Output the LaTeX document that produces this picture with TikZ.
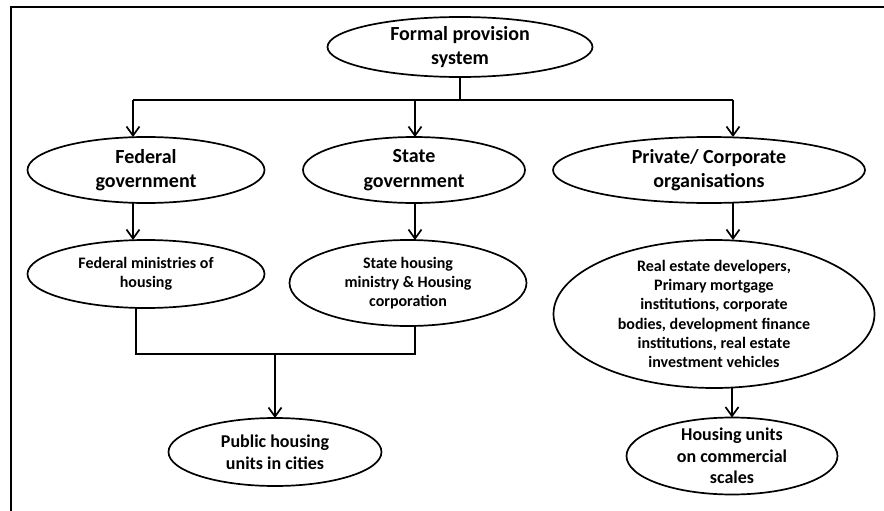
\documentclass[tikz,border=0pt]{standalone}
\usepackage{fontspec}
\setmainfont{Carlito}
\usetikzlibrary{shapes.geometric,arrows.meta}
\begin{document}
\begin{tikzpicture}[x=1pt,y=-1pt,
  ell/.style={draw, ellipse, line width=1.7pt, inner sep=0pt, outer sep=0pt},
  big/.style={align=center, font=\bfseries\fontsize{20}{24.5}\selectfont},
  mid/.style={align=center, font=\bfseries\fontsize{18}{21.7}\selectfont},
  small/.style={align=center, font=\bfseries\fontsize{16}{19.3}\selectfont},
  conn/.style={line width=1.7pt},
  arr/.style={conn, -{Straight Barb[length=9pt,width=13pt]}}]
\useasboundingbox (0,0) rectangle (884,511);
\draw[line width=2pt] (884,7) -- (11,7) -- (11,511);

% ellipses
\node[ell, minimum width=265, minimum height=60] (fps) at (460,47) {};
\node[big] (fpst) at (fps) {Formal provision\\system};
\node[ell, minimum width=237, minimum height=66] (fed) at (146,170) {};
\node[big] (fedt) at (fed) {Federal\\government};
\node[ell, minimum width=222, minimum height=66] (st) at (414,170) {};
\node[big] (stt) at (st) {State\\government};
\node[ell, minimum width=312, minimum height=66] (pc) at (709,170) {};
\node[big] (pct) at (pc) {Private/ Corporate\\organisations};
\node[ell, minimum width=237, minimum height=68] (fm) at (146,274) {};
\node[small] (fmt) at (fm) {Federal ministries of\\housing};
\node[ell, minimum width=237, minimum height=86] (sh) at (408,283) {};
\node[small] (sht) at (sh) {State housing\\ministry \& Housing\\corporation};
\node[ell, minimum width=321, minimum height=148] (rs) at (714,314) {};
\node[small] (rst) at (rs) {Real estate developers,\\Primary mortgage\\institutions, corporate\\bodies, development finance\\institutions, real estate\\investment vehicles};
\node[ell, minimum width=213, minimum height=68] (ph) at (275,452) {};
\node[mid] (pht) at (ph) {Public housing\\units in cities};
\node[ell, minimum width=211, minimum height=77] (hu) at (732,456) {};
\node[mid] (hut) at (hu) {Housing units\\on commercial\\scales};

% connectors
\coordinate (bL) at (133,100);
\coordinate (bM) at (415,100);
\coordinate (bR) at (733,100);
\draw[conn] (fps.south) -- (fps.south |- bL);
\draw[conn] (bL) -- (bR);
\draw[arr] (bL) -- (bL |- fed.north);
\draw[arr] (bM) -- (bM |- st.north);
\draw[arr] (bR) -- (bR |- pc.north);
\draw[arr] (bL |- fed.south) -- (bL |- fm.north);
\draw[arr] (bM |- st.south) -- (bM |- sh.north);
\draw[arr] (bR |- pc.south) -- (bR |- rs.north);
\coordinate (m1) at (136,354);
\coordinate (m2) at (415,354);
\coordinate (m3) at (275,354);
\draw[conn] (m1 |- fm.south) -- (m1) -- (m2) -- (m2 |- sh.south);
\draw[arr] (m3) -- (ph.north);
\draw[arr] (hu.north |- rs.south) -- (hu.north);
\end{tikzpicture}
\end{document}
